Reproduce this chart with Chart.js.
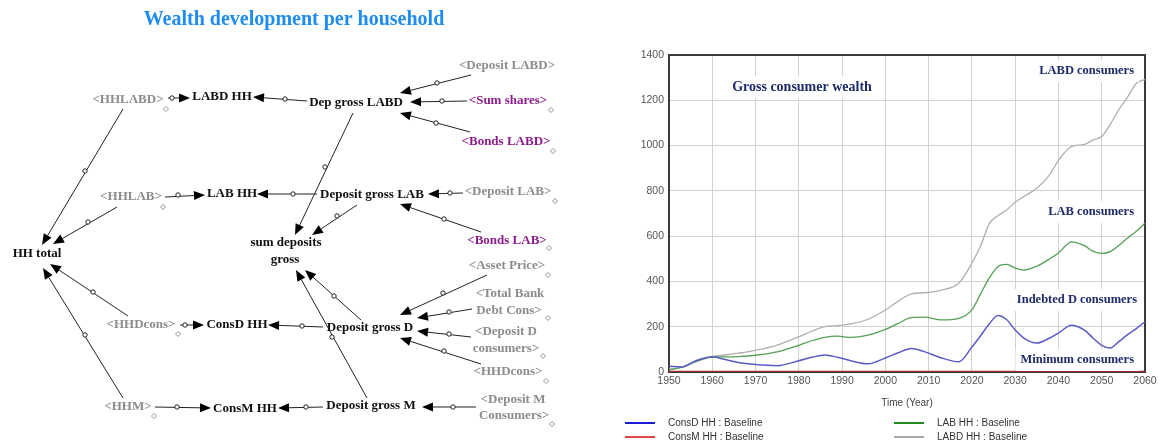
<!DOCTYPE html>
<html>
<head>
<meta charset="utf-8">
<script src="https://cdn.jsdelivr.net/npm/chart.js@4/dist/chart.umd.min.js"></script>
<style>
  body { margin: 0; background: #fff; }
  #wrap { position: relative; width: 1160px; height: 443px; overflow: hidden; background: #fff; }
  #diagram { position: absolute; left: 0; top: 0; }
  #chartBox { position: absolute; left: 620px; top: 0; width: 540px; height: 443px; }
  .leg { position: absolute; font: 10px "Liberation Sans", Arial, sans-serif; color: #333; white-space: nowrap; line-height: 12px; }
  .leg i { position: absolute; left: -43px; top: 5px; width: 30px; height: 2px; }
</style>
</head>
<body>
<div id="wrap">
  <canvas id="diagram" width="610" height="443"></canvas>
  <div id="chartBox"><canvas id="wealthChart"></canvas></div>
</div>
<script>
// ---- chart data ----
const years = [1950, 1953, 1956, 1960, 1963, 1966, 1970, 1975, 1980, 1983, 1986, 1989, 1992, 1996,
  2000, 2003, 2006, 2009, 2013, 2017, 2020, 2022, 2024, 2026, 2028, 2030, 2032, 2035, 2038,
  2040, 2043, 2046, 2048, 2050, 2052, 2054, 2056, 2058, 2060];
const consD = [25, 22, 48, 67, 55, 42, 33, 28, 50, 65, 75, 65, 50, 36,
  62, 85, 104, 90, 62, 45, 110, 160, 212, 250, 232, 185, 150, 128, 150,
  172, 207, 185, 150, 118, 106, 135, 165, 192, 222];
const consM = [0, 0, 0, 0, 0, 0, 0, 0, 0, 0, 0, 0, 0, 0,
  0, 0, 0, 0, 0, 0, 0, 0, 0, 0, 0, 0, 0, 0, 0,
  0, 0, 0, 0, 0, 0, 0, 0, 0, 0];
const lab = [8, 22, 45, 66, 67, 68, 74, 89, 118, 138, 153, 158, 153, 163,
  188, 215, 240, 242, 230, 237, 274, 345, 415, 465, 475, 459, 450, 467, 500,
  526, 575, 558, 533, 524, 532, 560, 592, 622, 657];
const labd = [12, 22, 45, 68, 75, 83, 96, 119, 156, 180, 200, 205, 213, 233,
  274, 313, 345, 350, 362, 393, 481, 556, 655, 690, 715, 750, 775, 812, 872,
  935, 995, 1005, 1025, 1040, 1095, 1160, 1215, 1275, 1292];
const seriesNames = ['ConsD HH : Baseline', 'ConsM HH : Baseline', 'LAB HH : Baseline', 'LABD HH : Baseline'];
const yTicks = [0, 200, 400, 600, 800, 1000, 1200, 1400];

const notes = [
  { text: 'Gross consumer wealth', x: 802, y: 87, size: 14, align: 'center' },
  { text: 'LABD consumers', x: 1134, y: 71, size: 12.5, align: 'right' },
  { text: 'LAB consumers', x: 1134, y: 212, size: 12.5, align: 'right' },
  { text: 'Indebted D consumers', x: 1137, y: 300, size: 12.5, align: 'right' },
  { text: 'Minimum consumers', x: 1134, y: 360, size: 12.5, align: 'right' }
];

function pts(vals) {
  return years.map((y, i) => ({ x: y, y: vals[i] }));
}

const frame = {
  id: 'frame',
  beforeDatasetsDraw(chart) {
    const { ctx, chartArea: a } = chart;
    ctx.save();
    ctx.strokeStyle = '#3a3a3a';
    ctx.lineWidth = 2;
    ctx.strokeRect(a.left, a.top, a.right - a.left, a.bottom - a.top);
    ctx.restore();
  },
  afterDraw(chart) {
    const ctx = chart.ctx;
    ctx.save();
    ctx.textBaseline = 'middle';
    notes.forEach(n => {
      ctx.font = 'bold ' + n.size + 'px "Liberation Serif", "Times New Roman", serif';
      const w = ctx.measureText(n.text).width;
      const x0 = (n.align === 'right' ? n.x - w : n.x - w / 2) - 620;
      ctx.fillStyle = '#fff';
      ctx.fillRect(x0 - 5, n.y - 11, w + 10, 22);
      ctx.fillStyle = '#1d2b6b';
      ctx.textAlign = 'left';
      ctx.fillText(n.text, x0, n.y);
    });
    ctx.restore();
  }
};

const tickFont = { family: '"Liberation Sans", Arial, sans-serif', size: 10.5 };

const chart = new Chart(document.getElementById('wealthChart'), {
  type: 'line',
  data: {
    datasets: [
      { label: seriesNames[0], data: pts(consD), borderColor: '#5b5bc8', borderWidth: 1.5 },
      { label: seriesNames[1], data: pts(consM), borderColor: '#a52a2a', borderWidth: 2.5 },
      { label: seriesNames[2], data: pts(lab), borderColor: '#55a055', borderWidth: 1.3 },
      { label: seriesNames[3], data: pts(labd), borderColor: '#b0b0b0', borderWidth: 1.3 }
    ]
  },
  options: {
    responsive: true,
    maintainAspectRatio: false,
    animation: false,
    layout: { padding: { top: 55, right: 15, left: 0, bottom: 0 } },
    elements: {
      point: { radius: 0 },
      line: { cubicInterpolationMode: 'monotone', fill: false }
    },
    plugins: {
      legend: { display: false },
      tooltip: { enabled: false }
    },
    scales: {
      x: {
        type: 'linear',
        min: 1950,
        max: 2060,
        afterFit: s => { s.height = 71; },
        grid: { color: '#d2d2d2', drawTicks: false },
        border: { display: false },
        ticks: { stepSize: 10, padding: 3, color: '#555', font: tickFont, callback: v => String(v) },
        title: { display: true, text: 'Time (Year)', color: '#444', font: { family: tickFont.family, size: 10 }, padding: { top: 0, bottom: 34 } }
      },
      y: {
        min: 0,
        max: 1400,
        afterFit: s => { s.width = 49; },
        afterBuildTicks: s => { s.ticks = yTicks.map(v => ({ value: v })); },
        grid: { color: '#d2d2d2', drawTicks: false },
        border: { display: false },
        ticks: { padding: 5, color: '#555', font: tickFont, callback: v => String(v) }
      }
    }
  },
  plugins: [frame]
});

// legend below the chart, two columns
const legendPos = [[668, 417], [668, 431], [937, 417], [937, 431]];
const legendColors = ['#1a1ad0', '#e04848', '#1f8a1f', '#a8a8a8'];
chart.data.datasets.forEach((ds, i) => {
  const d = document.createElement('div');
  d.className = 'leg';
  d.style.left = legendPos[i][0] + 'px';
  d.style.top = legendPos[i][1] + 'px';
  d.innerHTML = '<i style="background:' + legendColors[i] + '"></i>' + ds.label;
  document.getElementById('wrap').appendChild(d);
});

// ---- left side: stock/flow diagram ----
const g = document.getElementById('diagram').getContext('2d');
const BLACK = '#111', GRAY = '#8c8c8c', PURPLE = '#8b1c8b';

const nodes = [
  ['<HHLABD>', 128, 100, GRAY], ['LABD HH', 222, 97, BLACK], ['Dep gross LABD', 356, 103, BLACK],
  ['<Deposit LABD>', 507, 66, GRAY], ['<Sum shares>', 508, 101, PURPLE], ['<Bonds LABD>', 506, 142, PURPLE],
  ['<HHLAB>', 131, 197, GRAY], ['LAB HH', 232, 194, BLACK], ['Deposit gross LAB', 372, 195, BLACK],
  ['<Deposit LAB>', 508, 192, GRAY], ['<Bonds LAB>', 507, 241, PURPLE],
  ['HH total', 37, 254, BLACK], ['sum deposits', 286, 243, BLACK], ['gross', 285, 260, BLACK],
  ['<Asset Price>', 507, 266, GRAY], ['<Total Bank', 510, 294, GRAY], ['Debt Cons>', 509, 311, GRAY],
  ['<Deposit D', 506, 332, GRAY], ['consumers>', 506, 349, GRAY],
  ['<HHDcons>', 141, 325, GRAY], ['ConsD HH', 237, 325, BLACK], ['Deposit gross D', 370, 328, BLACK],
  ['<HHDcons>', 508, 372, GRAY],
  ['<HHM>', 128, 407, GRAY], ['ConsM HH', 245, 409, BLACK], ['Deposit gross M', 371, 406, BLACK],
  ['<Deposit M', 513, 400, GRAY], ['Consumers>', 514, 416, GRAY]
];

// from x, from y, tip x, tip y, circle x, circle y
const links = [
  [168, 98, 190, 98, 172, 98], [307, 101, 253, 97, 285, 99],
  [471, 75, 400, 93, 437, 83], [467, 101, 410, 102, 442, 101], [470, 132, 400, 113, 436, 123],
  [123, 109, 42, 245, 85, 171], [165, 197, 205, 195, 178, 195], [317, 194, 257, 194, 293, 194],
  [463, 193, 428, 194, 450, 193], [481, 232, 400, 204, 444, 219], [117, 207, 53, 244, 88, 222],
  [353, 113, 295, 235, 325, 167], [357, 205, 312, 235, 337, 216],
  [128, 316, 50, 264, 93, 292], [123, 398, 43, 268, 85, 335],
  [180, 325, 204, 325, 185, 325], [155, 407, 211, 408, 177, 407],
  [361, 320, 305, 270, 334, 296], [367, 398, 296, 270, 332, 337],
  [323, 327, 268, 325, 302, 326], [323, 407, 278, 408, 306, 407],
  [487, 275, 400, 315, 443, 293], [472, 309, 417, 318, 449, 312], [471, 337, 417, 331, 449, 334],
  [481, 364, 400, 338, 444, 351], [476, 407, 422, 407, 453, 407]
];

const diamonds = [[166, 109], [163, 207], [551, 110], [553, 151], [555, 201], [549, 248], [178, 334],
  [154, 416], [548, 275], [548, 318], [543, 356], [546, 381], [552, 424]];

g.fillStyle = '#fff';
g.fillRect(0, 0, 610, 443);

g.font = 'bold 20px "Liberation Serif", "Times New Roman", serif';
g.fillStyle = '#1e8cf0';
g.textAlign = 'center';
g.textBaseline = 'middle';
g.fillText('Wealth development per household', 294, 20);

links.forEach(([x1, y1, x2, y2, cx, cy]) => {
  const ang = Math.atan2(y2 - y1, x2 - x1);
  const hl = 11, hw = 4.5;
  const bx = x2 - hl * Math.cos(ang), by = y2 - hl * Math.sin(ang);
  g.strokeStyle = '#222';
  g.lineWidth = 1;
  g.beginPath();
  g.moveTo(x1, y1);
  g.lineTo(bx, by);
  g.stroke();
  g.fillStyle = '#000';
  g.beginPath();
  g.moveTo(x2, y2);
  g.lineTo(bx - hw * Math.sin(ang), by + hw * Math.cos(ang));
  g.lineTo(bx + hw * Math.sin(ang), by - hw * Math.cos(ang));
  g.closePath();
  g.fill();
  g.fillStyle = '#fff';
  g.beginPath();
  g.arc(cx, cy, 2.2, 0, Math.PI * 2);
  g.fill();
  g.stroke();
});

g.strokeStyle = '#777';
g.lineWidth = 0.8;
diamonds.forEach(([x, y]) => {
  g.fillStyle = '#fff';
  g.beginPath();
  g.moveTo(x, y - 2.5);
  g.lineTo(x + 2.5, y);
  g.lineTo(x, y + 2.5);
  g.lineTo(x - 2.5, y);
  g.closePath();
  g.fill();
  g.stroke();
});

g.font = 'bold 13px "Liberation Serif", "Times New Roman", serif';
nodes.forEach(([t, x, y, c]) => {
  g.fillStyle = c;
  g.fillText(t, x, y);
});
</script>
</body>
</html>
